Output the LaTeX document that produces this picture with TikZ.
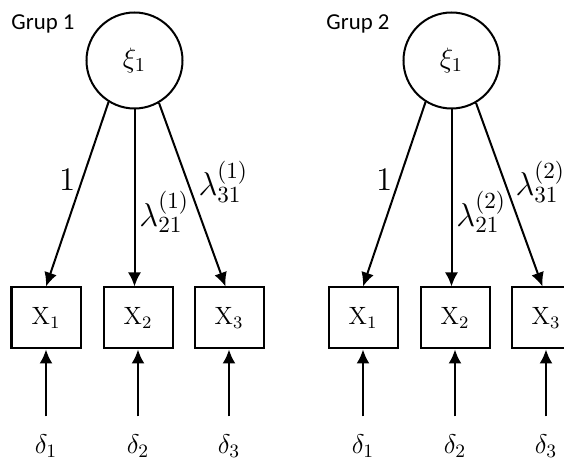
\RequirePackage{fix-cm}
\documentclass[tikz,border=0pt]{standalone}
\usepackage{fontspec}
\usepackage{tikz}
\usetikzlibrary{shapes,arrows.meta,positioning}
\newfontfamily\grupfont{Carlito}
\tikzstyle{latent} = [circle, draw, line width=1pt, minimum size=48pt, inner sep=0pt, font=\fontsize{14}{17}\selectfont]
\tikzstyle{observed} = [rectangle, draw, line width=1pt, minimum width=34.5pt, minimum height=30.5pt, font=\fontsize{12.5}{15}\selectfont]
\tikzstyle{errterm} = [inner sep=0pt, font=\fontsize{13.5}{16}\selectfont]
\tikzstyle{grouplabel} = [inner sep=0pt, font=\grupfont\fontsize{11.4}{13}\selectfont]
\tikzstyle{lbl} = [inner sep=2pt, font=\fontsize{16.5}{19}\selectfont]
\tikzstyle{line} = [draw, line width=1pt, -{Latex[length=7pt, width=6.5pt]}]

\begin{document}
\begin{tikzpicture}[x=0.5pt, y=-0.5pt]
    \useasboundingbox (0,0) rectangle (564,460);

    % Grup 1
    \node [grouplabel] (grup1) at (43,24) {Grup 1};
    \node [latent] (xi1) at (134.5,60.5) {$\xi_1$};
    \node [observed, below=88.5pt of xi1, xshift=1.75pt] (x12) {$\mathrm{X}_2$};
    \node [observed, left=10.5pt of x12] (x11) {$\mathrm{X}_1$};
    \node [observed, right=10pt of x12] (x13) {$\mathrm{X}_3$};
    \node [errterm, below=52pt of x11, anchor=base] (d11) {$\delta_1$};
    \node [errterm, below=52pt of x12, anchor=base] (d12) {$\delta_2$};
    \node [errterm, below=52pt of x13, anchor=base] (d13) {$\delta_3$};

    \path [line] (xi1.-122) -- node [lbl, pos=.42, left, inner sep=3pt] {$1$} (x11.north);
    \path [line] (xi1) -- node [lbl, pos=.58, right] {$\lambda^{(1)}_{21}$} (xi1 |- x12.north);
    \path [line] (xi1.-60) -- node [lbl, pos=.43, right, xshift=3pt] {$\lambda^{(1)}_{31}$} ([xshift=-1.75pt]x13.north);
    \path [line, shorten <=9pt] (d11) -- (x11);
    \path [line, shorten <=9pt] (d12) -- (x12);
    \path [line, shorten <=9pt] (d13) -- (x13);

    % Grup 2
    \node [grouplabel] (grup2) at (358,24) {Grup 2};
    \node [latent, right=109.5pt of xi1] (xi2) {$\xi_1$};
    \node [observed, below=88.5pt of xi2, xshift=1.75pt] (x22) {$\mathrm{X}_2$};
    \node [observed, left=10.5pt of x22] (x21) {$\mathrm{X}_1$};
    \node [observed, right=10pt of x22] (x23) {$\mathrm{X}_3$};
    \node [errterm, below=52pt of x21, anchor=base] (d21) {$\delta_1$};
    \node [errterm, below=52pt of x22, anchor=base] (d22) {$\delta_2$};
    \node [errterm, below=52pt of x23, anchor=base] (d23) {$\delta_3$};

    \path [line] (xi2.-122) -- node [lbl, pos=.42, left, inner sep=3pt] {$1$} (x21.north);
    \path [line] (xi2) -- node [lbl, pos=.58, right] {$\lambda^{(2)}_{21}$} (xi2 |- x22.north);
    \path [line] (xi2.-60) -- node [lbl, pos=.43, right, xshift=3pt] {$\lambda^{(2)}_{31}$} ([xshift=-1.75pt]x23.north);
    \path [line, shorten <=9pt] (d21) -- (x21);
    \path [line, shorten <=9pt] (d22) -- (x22);
    \path [line, shorten <=9pt] (d23) -- (x23);
\end{tikzpicture}
\end{document}
